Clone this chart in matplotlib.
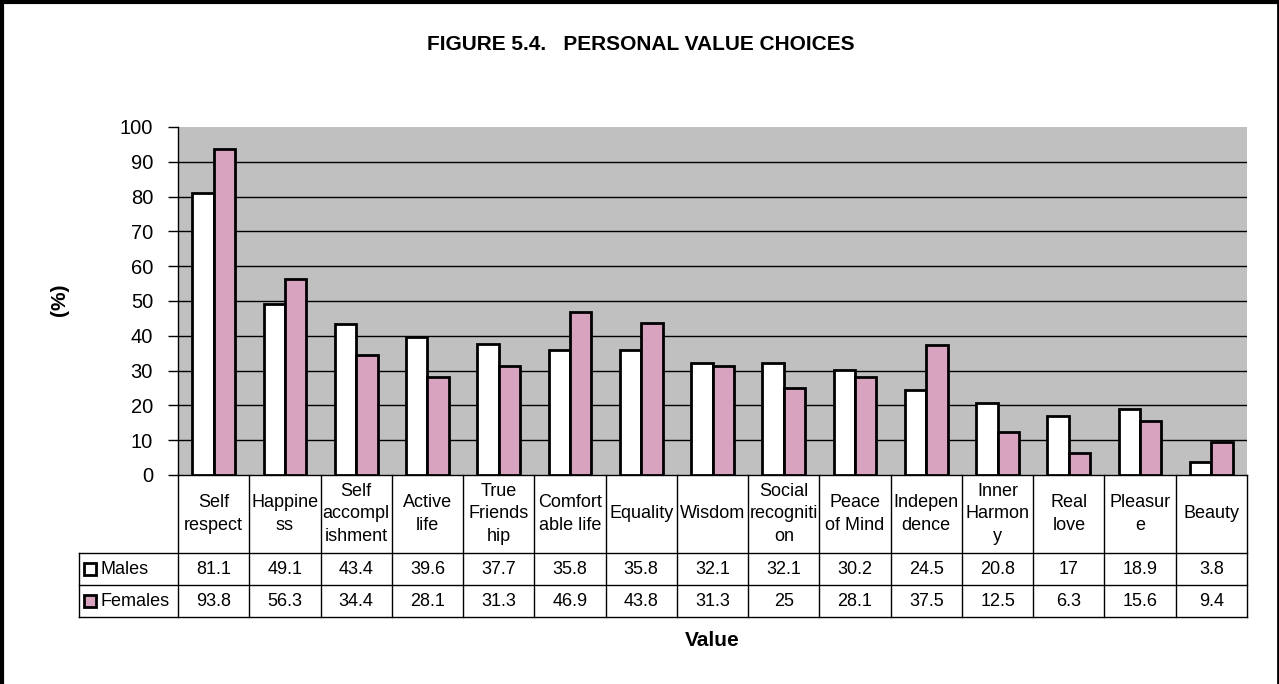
import matplotlib
matplotlib.use("Agg")
import matplotlib.pyplot as plt
import matplotlib.transforms as mtransforms
from matplotlib.patches import Rectangle
from matplotlib.lines import Line2D

plt.rcParams['font.family'] = ['Liberation Sans', 'DejaVu Sans']

categories = ["Self\nrespect", "Happine\nss", "Self\naccompl\nishment", "Active\nlife",
              "True\nFriends\nhip", "Comfort\nable life", "Equality", "Wisdom",
              "Social\nrecogniti\non", "Peace\nof Mind", "Indepen\ndence",
              "Inner\nHarmon\ny", "Real\nlove", "Pleasur\ne", "Beauty"]
males = [81.1, 49.1, 43.4, 39.6, 37.7, 35.8, 35.8, 32.1, 32.1, 30.2, 24.5, 20.8, 17, 18.9, 3.8]
females = [93.8, 56.3, 34.4, 28.1, 31.3, 46.9, 43.8, 31.3, 25, 28.1, 37.5, 12.5, 6.3, 15.6, 9.4]
male_labels = ["81.1", "49.1", "43.4", "39.6", "37.7", "35.8", "35.8", "32.1", "32.1", "30.2", "24.5", "20.8", "17", "18.9", "3.8"]
female_labels = ["93.8", "56.3", "34.4", "28.1", "31.3", "46.9", "43.8", "31.3", "25", "28.1", "37.5", "12.5", "6.3", "15.6", "9.4"]
series_names = ["Males", "Females"]
yticks = [0, 10, 20, 30, 40, 50, 60, 70, 80, 90, 100]

W, H = 1279, 684
fig = plt.figure(figsize=(W / 100, H / 100), dpi=100)

def fx(px):
    return px / W

def fy(py):
    return 1 - py / H

ax_l, ax_r, ax_t, ax_b = 178, 1247, 127, 475
ax = fig.add_axes([fx(ax_l), fy(ax_b), fx(ax_r - ax_l), (ax_b - ax_t) / H])
ax.set_facecolor('#c0c0c0')
n = len(categories)
ax.set_xlim(-0.5, n - 0.5)
ax.set_ylim(0, 100)

bw = 0.3
xs = list(range(n))
pink = '#d7a3bf'
ax.bar([x - bw / 2 for x in xs], males, width=bw, color='white', edgecolor='black', linewidth=2, zorder=3)
ax.bar([x + bw / 2 for x in xs], females, width=bw, color=pink, edgecolor='black', linewidth=2, zorder=3)

ax.set_yticks(yticks)
ax.set_yticklabels([str(t) for t in yticks], fontsize=14.5)
ax.tick_params(axis='y', direction='out', length=7, width=1, pad=11)
ax.set_xticks([])
for t in yticks[1:-1]:
    ax.axhline(t, color='black', linewidth=1, zorder=1)
for s in ['top', 'right']:
    ax.spines[s].set_visible(False)
ax.spines['left'].set_linewidth(1)
ax.spines['bottom'].set_linewidth(1)

# Table under chart
trans = mtransforms.blended_transform_factory(ax.transData, fig.transFigure)
row_y = [475, 553, 585, 617]
lw = 1.0
for py in row_y[1:]:
    fig.add_artist(Line2D([fx(79), fx(ax_r)], [fy(py), fy(py)], color='black', linewidth=lw))
for i in range(n + 1):
    xb = i - 0.5
    ax.add_line(Line2D([xb, xb], [fy(475), fy(617)], transform=trans, color='black',
                       linewidth=lw, clip_on=False))
fig.add_artist(Line2D([fx(79), fx(79)], [fy(553), fy(617)], color='black', linewidth=lw))

tfs = 13
for i, c in enumerate(categories):
    ax.text(i, fy(514), c, transform=trans, ha='center', va='center', fontsize=tfs,
            linespacing=1.42, clip_on=False)
    ax.text(i, fy(569), male_labels[i], transform=trans, ha='center', va='center', fontsize=tfs)
    ax.text(i, fy(601), female_labels[i], transform=trans, ha='center', va='center', fontsize=tfs)

for j, (name, col) in enumerate(zip(series_names, ['white', pink])):
    cy = 569 + 32 * j
    fig.add_artist(Rectangle((fx(84), fy(cy + 6)), fx(12), 12 / H, facecolor=col,
                             edgecolor='black', linewidth=2))
    fig.text(fx(100), fy(cy), name, ha='left', va='center', fontsize=tfs)

fig.text(fx(641), fy(45), "FIGURE 5.4.   PERSONAL VALUE CHOICES", ha='center', va='center',
         fontsize=15, fontweight='bold')
fig.text(fx(59), fy(300), "(%)", ha='center', va='center', rotation=90, fontsize=15,
         fontweight='bold')
fig.text(fx(712), fy(640), "Value", ha='center', va='center', fontsize=15, fontweight='bold')

fig.add_artist(Line2D([fx(2), fx(2)], [0, 1], color='black', linewidth=3))
fig.add_artist(Line2D([0, 1], [fy(1.5), fy(1.5)], color='black', linewidth=3))
fig.add_artist(Line2D([fx(1278), fx(1278)], [0, 1], color='black', linewidth=2))

fig.savefig("out.png", dpi=100)
